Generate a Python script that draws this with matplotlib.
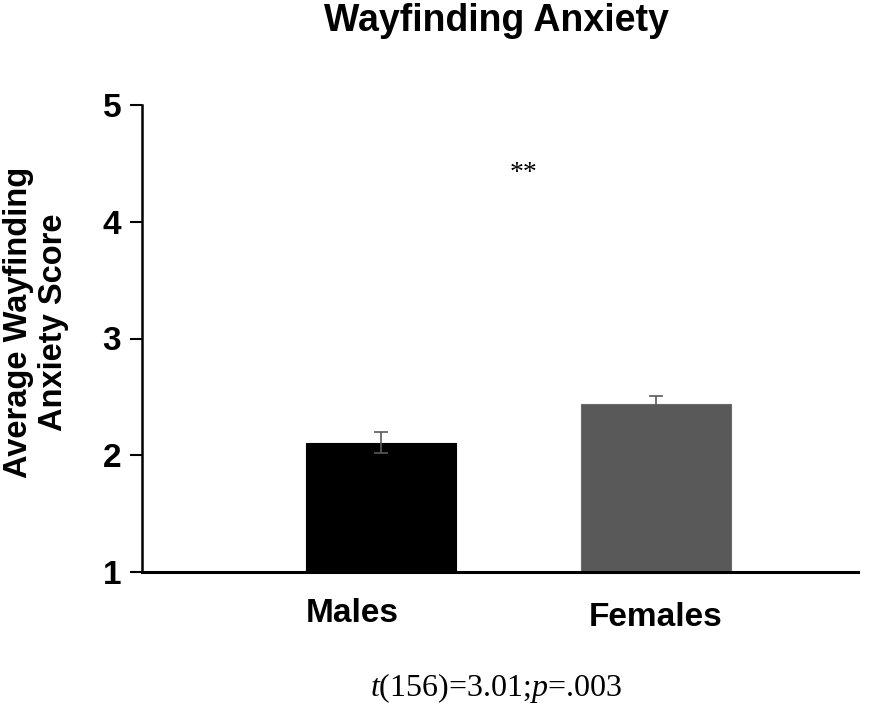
import matplotlib
matplotlib.use("Agg")
import matplotlib.pyplot as plt

groups = ["Males", "Females"]
means = [2.107, 2.44]
errors = [0.092, 0.068]
bar_colors = ["#000000", "#595959"]
yticks = [1, 2, 3, 4, 5]

plt.rcParams["font.family"] = ["Liberation Sans", "DejaVu Sans"]
plt.rcParams["mathtext.fontset"] = "custom"
plt.rcParams["mathtext.it"] = "Liberation Serif:italic"
plt.rcParams["mathtext.rm"] = "Liberation Serif"

fig = plt.figure(figsize=(8.96, 7.08), dpi=100)
ax = fig.add_axes([142 / 896, 136 / 708, 716 / 896, 467 / 708])

pos = [0, 1]
ax.bar(pos, [m - 1 for m in means], bottom=1, width=0.545, color=bar_colors,
       edgecolor=["#000000", "#6a6a6a"], linewidth=0.8, zorder=2)
ax.errorbar(pos, means, yerr=errors, fmt="none", ecolor="#5a5a5a",
            elinewidth=1.2, capsize=5, capthick=1.2, zorder=3)

ax.set_xlim(-0.869, 1.735)
ax.set_ylim(1, 5)
ax.set_yticks(yticks)
ax.set_yticklabels([str(v) for v in yticks], fontsize=24, fontweight="bold")
ax.tick_params(axis="y", direction="out", length=9, width=1.5, pad=6)
ax.set_xticks([])
for s in ["top", "right"]:
    ax.spines[s].set_visible(False)
ax.spines["left"].set_linewidth(1.8)
ax.spines["bottom"].set_linewidth(2.2)

# category labels (offset as in the original)
label_x = [352, 656]
label_y = [613, 617]
for x, y, g in zip(label_x, label_y, groups):
    fig.text(x / 896, 1 - y / 708, g, ha="center", va="center", fontsize=24,
             fontweight="bold")

ax.text(0.52, 4.41, "**", ha="center", va="center", fontsize=20,
        family="Liberation Serif")

fig.text(36 / 896, 1 - 322 / 708, "Average Wayfinding\nAnxiety Score",
         rotation=90, ha="center", va="center", fontsize=23.5, fontweight="bold",
         linespacing=1.15)
fig.text(496 / 896, 1 - 21 / 708, "Wayfinding Anxiety", ha="center", va="center",
         fontsize=27, fontweight="bold")
fig.text(496 / 896, 1 - 688 / 708, r"$t$(156)=3.01;$p$=.003", ha="center",
         va="center", fontsize=23, family="Liberation Serif")

fig.savefig("out.png", dpi=100)
